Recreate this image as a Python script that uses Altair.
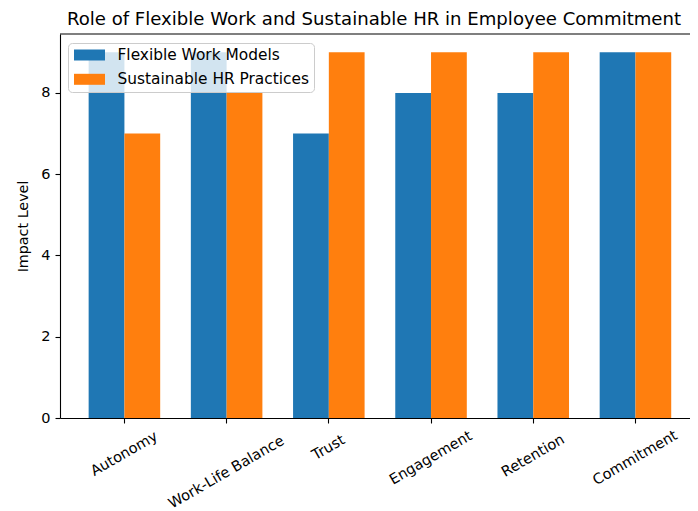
import altair as alt
import pandas as pd

categories = ["Autonomy", "Work-Life Balance", "Trust", "Engagement", "Retention", "Commitment"]
flexible = [9, 9, 7, 8, 8, 9]
sustainable = [7, 8, 9, 9, 9, 9]
series = ["Flexible Work Models", "Sustainable HR Practices"]
colors = ["#1f77b4", "#ff7f0e"]
y_ticks = [0, 2, 4, 6, 8]
y_max = 9.45

rows = []
for c, f, s in zip(categories, flexible, sustainable):
    rows.append({"Category": c, "Series": series[0], "Value": f})
    rows.append({"Category": c, "Series": series[1], "Value": s})
df = pd.DataFrame(rows)

font = "DejaVu Sans"
W, H = 630, 384

bars = alt.Chart(df).mark_bar(strokeWidth=0).encode(
    x=alt.X(
        "Category:N",
        sort=categories,
        scale=alt.Scale(paddingInner=0.3, paddingOuter=0.232, align=0.604),
        axis=alt.Axis(
            title=None,
            labelAngle=-30,
            labelAlign="center",
            labelBaseline="middle",
            labelPadding={"expr": "14.2 + 2.06*length(datum.label)"},
        ),
    ),
    xOffset=alt.XOffset("Series:N", sort=series, scale=alt.Scale(paddingInner=0, paddingOuter=0)),
    y=alt.Y(
        "Value:Q",
        scale=alt.Scale(domain=[0, y_max], nice=False, zero=True),
        axis=alt.Axis(title="Impact Level", values=y_ticks, grid=False, titlePadding=10, labelPadding=5),
    ),
    color=alt.Color(
        "Series:N",
        scale=alt.Scale(domain=series, range=colors),
        legend=alt.Legend(
            title=None,
            orient="none",
            legendX=8,
            legendY=9,
            symbolType="M-1.9375,-0.6875L1.9375,-0.6875L1.9375,0.6875L-1.9375,0.6875Z",
            symbolSize=256,
            symbolOffset=9.5,
            symbolStrokeWidth=0,
            symbolOpacity=1,
            labelFontSize=15.4,
            labelFont=font,
            labelColor="black",
            labelOffset=20,
            labelLimit=0,
            padding=4,
            rowPadding=7.3,
            fillColor="rgba(255,255,255,0.8)",
            strokeColor="#cccccc",
            cornerRadius=4,
        ),
    ),
)

top_spine = alt.Chart(pd.DataFrame({"a": [0]})).mark_rule(color="black", strokeWidth=1.1).encode(
    x=alt.value(0), x2=alt.value(W), y=alt.value(0)
)

chart = (
    alt.layer(bars, top_spine)
    .properties(
        width=W,
        height=H,
        padding={"left": 52, "top": 26, "right": 0, "bottom": 100},
        autosize=alt.AutoSizeParams(type="none"),
        title=alt.Title(
            "Role of Flexible Work and Sustainable HR in Employee Commitment",
            fontSize=18.1,
            font=font,
            fontWeight="normal",
            color="black",
            anchor="middle",
            frame="group",
            dx=-1,
            offset=4.5,
        ),
    )
    .configure_view(stroke=None)
    .configure_axis(
        domainColor="black",
        domainWidth=1.1,
        tickColor="black",
        tickSize=5,
        tickWidth=1.1,
        labelColor="black",
        labelFont=font,
        labelFontSize=14.5,
        titleFont=font,
        titleFontSize=14.3,
        titleFontWeight="normal",
        titleColor="black",
    )
)

chart.save("out.html", embed_options={"renderer": "svg", "actions": False})
